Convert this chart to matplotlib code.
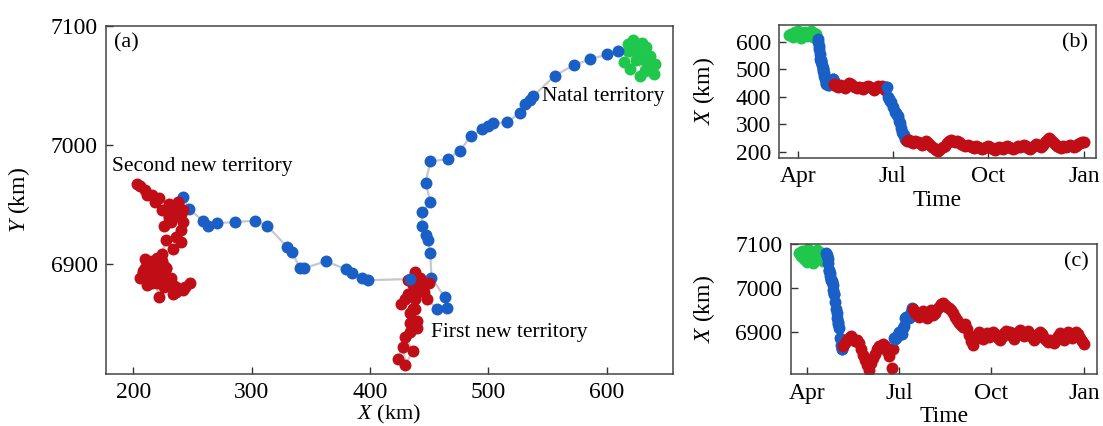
import matplotlib
matplotlib.use('Agg')
import numpy as np
import pandas as pd
import matplotlib.pyplot as plt
import matplotlib.dates as mdates

# Fonts: serif look of the original figure
plt.rcParams['font.family'] = ['Liberation Serif', 'DejaVu Serif']
plt.rcParams['mathtext.fontset'] = 'custom'
plt.rcParams['mathtext.rm'] = 'Liberation Serif'
plt.rcParams['mathtext.it'] = 'Liberation Serif:italic'

# Day 0 = 1 April
startDate = pd.Timestamp('2009-04-01')

# Natal territory (green)
natalDays = [-8, -6, -5, -3, -2, 0, 1, 3, 4, 6, 7, 9, 10, 12, 13, 15, 16, 18]
natalX = [624, 630, 618, 635, 627, 640, 622, 615, 633, 628, 637, 620, 630, 625, 641, 618, 632, 627]
natalY = [7080, 7072, 7085, 7066, 7078, 7060, 7088, 7070, 7082, 7058, 7075, 7064, 7086, 7071, 7068, 7079, 7062, 7074]

# First dispersal (blue)
move1Days = [19.0, 19.5, 20.0, 20.5, 21.0, 21.6, 22.0, 22.4, 22.8, 23.3, 23.8, 24.2, 24.6, 25.1,
             25.7, 26.2, 26.8, 27.6, 28.4, 29.0, 29.7, 30.3, 30.8, 31.5, 32.6, 33.4, 34.0, 34.6]
move1X = [610, 600, 586, 572, 556, 538, 535, 531, 527, 516, 504, 500, 495, 485,
          476, 466, 451, 447, 451, 444, 444, 447, 449, 451, 452, 463, 465, 457]
move1Y = [7079, 7076, 7072, 7067, 7058, 7041, 7038, 7034, 7027, 7019, 7018, 7016, 7013, 7007,
          6995, 6988, 6986, 6968, 6952, 6943, 6932, 6924, 6920, 6909, 6888, 6872, 6863, 6862]

# First new territory (red)
terr1Days = [35, 37, 39, 41, 43, 45, 47, 49, 51, 53, 55, 57, 59, 61, 63, 65, 67, 69, 71, 73, 75, 77, 79, 81, 84, 85]
terr1X = [448, 440, 436, 442, 438, 432, 444, 450, 446, 438, 434, 430, 436, 430, 428, 434, 440, 436, 430, 426, 432, 438, 434, 440, 424, 436]
terr1Y = [6870, 6876, 6882, 6888, 6893, 6886, 6880, 6884, 6876, 6862, 6850, 6838, 6826, 6815, 6830, 6842, 6852, 6862, 6870, 6866, 6874, 6870, 6858, 6846, 6820, 6862]

# Second dispersal (blue)
move2Days = [86, 87, 88, 89, 90, 91.5, 93, 94, 95, 96, 97.5, 98.5, 99.5, 100.5, 101.5, 102, 103, 104]
move2X = [434, 398, 393, 385, 380, 363, 344, 341, 334, 330, 313, 303, 286, 271, 263, 259, 247, 242]
move2Y = [6887, 6886, 6888, 6892, 6895, 6902, 6896, 6896, 6910, 6914, 6932, 6936, 6935, 6934, 6932, 6936, 6946, 6956]

# Second new territory (red)
terr2Days = [105, 107, 109, 111, 113, 115, 117, 119, 121, 123, 125, 127, 129, 131, 133, 135, 137, 139,
             141, 143, 145, 147, 149, 151, 153, 155, 157, 159, 161, 163, 165, 167, 169, 171, 173, 175,
             177, 179, 181, 183, 185, 187, 189, 191, 193, 195, 197, 199, 201, 203, 205, 207, 209, 211,
             213, 215, 217, 219, 221, 223, 225, 227, 229, 231, 233, 235, 237, 239, 241, 243, 245, 247,
             249, 251, 253, 255, 257, 259, 261, 263, 265, 267, 269, 271, 273, 275]
terr2X = [238, 242, 236, 232, 240, 236, 230, 226, 232, 238, 230, 224, 218, 212, 206, 203, 210, 216,
          222, 230, 238, 242, 240, 236, 240, 234, 228, 224, 220, 226, 222, 218, 214, 220, 216, 212,
          208, 214, 218, 222, 216, 210, 206, 212, 218, 214, 210, 216, 222, 218, 212, 208, 214, 220,
          216, 222, 226, 220, 214, 210, 216, 222, 228, 224, 218, 226, 234, 242, 248, 244, 236, 228,
          222, 218, 214, 220, 216, 222, 226, 220, 216, 222, 228, 232, 236, 234]
terr2Y = [6952, 6945, 6940, 6935, 6942, 6948, 6938, 6932, 6944, 6950, 6940, 6945, 6952, 6958, 6965, 6967, 6962, 6958,
          6955, 6950, 6944, 6935, 6928, 6922, 6918, 6912, 6920, 6908, 6895, 6880, 6872, 6885, 6895, 6902, 6890, 6885,
          6892, 6898, 6890, 6895, 6902, 6896, 6888, 6882, 6890, 6898, 6904, 6896, 6900, 6892, 6886, 6894, 6900, 6905,
          6898, 6892, 6898, 6904, 6896, 6890, 6884, 6890, 6896, 6902, 6896, 6888, 6882, 6878, 6884, 6880, 6876, 6884,
          6892, 6898, 6890, 6884, 6892, 6900, 6894, 6888, 6896, 6902, 6896, 6888, 6880, 6874]

green = '#1fc84c'
blue = '#1a5fc6'
red = '#c00d16'
segments = [
    (natalDays, natalX, natalY, green),
    (move1Days, move1X, move1Y, blue),
    (terr1Days, terr1X, terr1Y, red),
    (move2Days, move2X, move2Y, blue),
    (terr2Days, terr2X, terr2Y, red),
]
markSize = 8.6

fig = plt.figure(figsize=(11.03, 4.26), dpi=100)
axA = fig.add_axes([0.0961, 0.122, 0.514, 0.817])
axB = fig.add_axes([0.7065, 0.6298, 0.2871, 0.3115])
axC = fig.add_axes([0.7169, 0.1214, 0.2774, 0.3059])

# (a) track in space, gray line through all fixes
allX = natalX + move1X + terr1X + move2X + terr2X
allY = natalY + move1Y + terr1Y + move2Y + terr2Y
axA.plot(allX, allY, color='#c8c8c8', lw=1.6, zorder=1)
for days, xs, ys, col in segments:
    axA.plot(xs, ys, 'o', color=col, ms=markSize, mec='none', zorder=2)

axA.set_xlim(177, 656)
axA.set_ylim(6807, 7097)
axA.set_xticks([200, 300, 400, 500, 600])
axA.set_yticks([6900, 7000, 7100])
axA.set_xlabel(r'$\mathit{X}$ (km)', fontsize=16)
axA.set_ylabel(r'$\mathit{Y}$ (km)', fontsize=17)
axA.xaxis.set_label_coords(0.5, -0.082)
axA.yaxis.set_label_coords(-0.131, 0.5)
axA.text(0.014, 0.951, '(a)', transform=axA.transAxes, fontsize=16, va='center', ha='left')
axA.text(545, 7041, 'Natal territory', fontsize=15.5, va='center')
axA.text(182, 6982, 'Second new territory', fontsize=15.5, va='center')
axA.text(452, 6842, 'First new territory', fontsize=15.5, va='center')

# (b) and (c) coordinates against time
for ax, col_idx in [(axB, 1), (axC, 2)]:
    for seg in segments:
        dates = (startDate + pd.to_timedelta(seg[0], unit='D')).to_numpy()
        ax.plot(dates, seg[col_idx], 'o', color=seg[3], ms=markSize, mec='none')
    ax.xaxis.set_major_locator(mdates.MonthLocator(bymonth=[1, 4, 7, 10]))
    ax.xaxis.set_major_formatter(mdates.DateFormatter('%b'))
    ax.set_xlabel('Time', fontsize=17, labelpad=2)

axB.set_xlim((startDate - pd.Timedelta(days=17.7)).to_numpy(), (startDate + pd.Timedelta(days=286.2)).to_numpy())
axB.set_ylim(178, 661)
axB.set_yticks([200, 300, 400, 500, 600])
axB.set_ylabel(r'$\mathit{X}$ (km)', fontsize=17)
axB.yaxis.set_label_coords(-0.197, 0.5)
axB.text(0.976, 0.862, '(b)', transform=axB.transAxes, fontsize=16, va='center', ha='right')

axC.set_xlim((startDate - pd.Timedelta(days=16.5)).to_numpy(), (startDate + pd.Timedelta(days=287.6)).to_numpy())
axC.set_ylim(6805.5, 7100)
axC.set_yticks([6900, 7000, 7100])
axC.set_ylabel(r'$\mathit{X}$ (km)', fontsize=17)
axC.yaxis.set_label_coords(-0.24, 0.5)
axC.text(0.9725, 0.864, '(c)', transform=axC.transAxes, fontsize=16, va='center', ha='right')

for ax in [axA, axB, axC]:
    ax.tick_params(direction='in', length=5, width=1, labelsize=17, pad=6,
                   top=False, right=False, color='#333333')
    for sp in ax.spines.values():
        sp.set_color('#444444')
        sp.set_linewidth(1.1)

plt.savefig('out.png', dpi=100)
